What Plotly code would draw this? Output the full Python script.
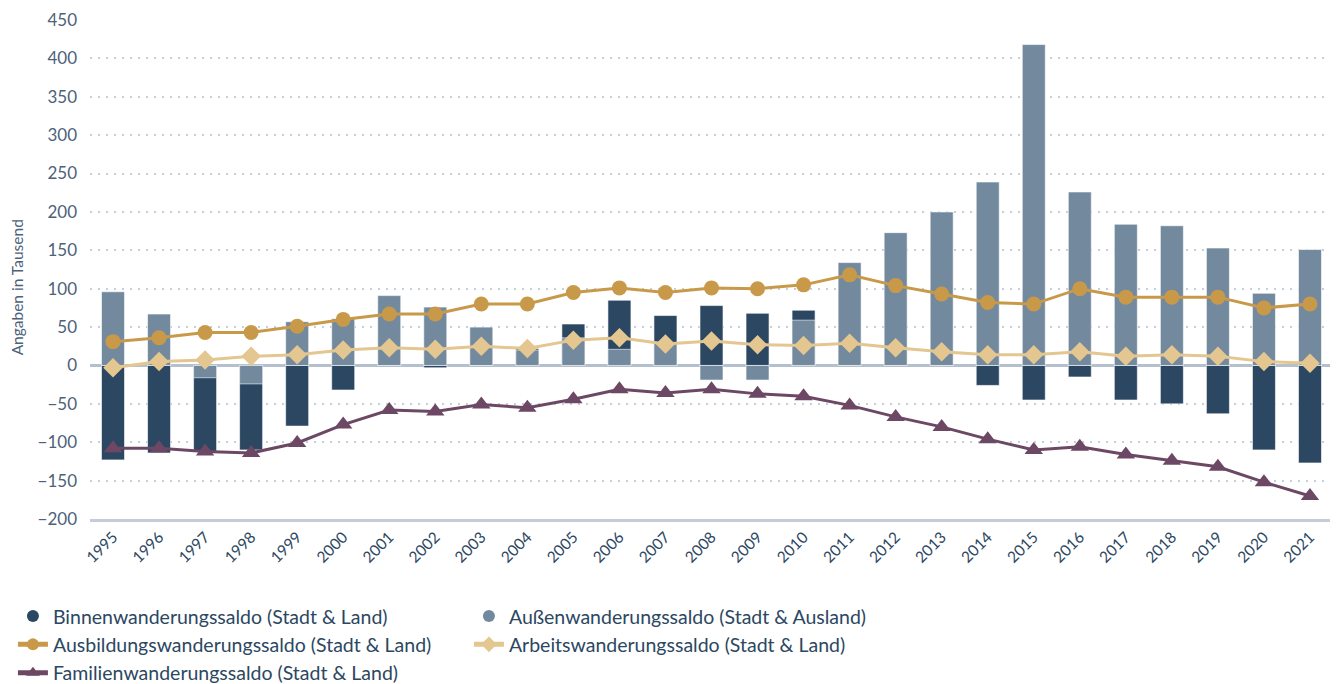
import plotly.graph_objects as go

years = [str(y) for y in range(1995, 2022)]

binnen = [-123, -114, -112, -110, -79, -32, 0, -3, 0, 22, 54, 85, 65, 78, 68, 72,
          0, 0, 0, -26, -45, -15, -45, -50, -63, -110, -127]
aussen = [96, 67, -16, -24, 57, 61, 91, 76, 50, 20, 36, 21, 30, -19, -19, 59,
          134, 173, 200, 239, 418, 226, 184, 182, 153, 94, 151]
ausbildung = [31, 36, 43, 43, 51, 60, 67, 67, 80, 80, 95, 101, 95, 101, 100, 105,
              118, 104, 93, 82, 80, 100, 89, 89, 89, 75, 80]
arbeit = [-3, 5, 7, 12, 14, 20, 23, 21, 25, 22, 33, 36, 28, 32, 27, 26,
          29, 23, 18, 14, 14, 18, 12, 14, 12, 5, 3]
familien = [-108, -108, -112, -114, -101, -77, -58, -60, -51, -55, -44, -31, -36, -31, -37, -40,
            -52, -67, -80, -96, -110, -106, -116, -124, -132, -152, -170]

names = [
    "Binnenwanderungssaldo (Stadt & Land)",
    "Außenwanderungssaldo (Stadt & Ausland)",
    "Ausbildungswanderungssaldo (Stadt & Land)",
    "Arbeitswanderungssaldo (Stadt & Land)",
    "Familienwanderungssaldo (Stadt & Land)",
]
y_title = "Angaben in Tausend"

C_DARK = "#2c4762"
C_LIGHT = "#738a9e"
C_ORANGE = "#c9994a"
C_BEIGE = "#e3c690"
C_PURPLE = "#6c4864"
TXT = "#2c4762"
AX = "#4d6279"

fig = go.Figure()

fig.add_trace(go.Bar(x=years, y=binnen, name=names[0], marker_color=C_DARK,
                     marker_line=dict(color="rgba(255,255,255,0.6)", width=1),
                     width=0.5, showlegend=False, legendgroup="b"))
fig.add_trace(go.Bar(x=years, y=aussen, name=names[1], marker_color=C_LIGHT,
                     marker_line=dict(color="rgba(255,255,255,0.6)", width=1),
                     width=0.5, showlegend=False, legendgroup="a"))

fig.add_trace(go.Scatter(x=years, y=ausbildung, name=names[2], mode="lines+markers",
                         line=dict(color=C_ORANGE, width=3),
                         marker=dict(symbol="circle", size=15, color=C_ORANGE)))
fig.add_trace(go.Scatter(x=years, y=arbeit, name=names[3], mode="lines+markers",
                         line=dict(color=C_BEIGE, width=3),
                         marker=dict(symbol="diamond", size=15, color=C_BEIGE)))
fig.add_trace(go.Scatter(x=years, y=familien, name=names[4], mode="lines+markers",
                         line=dict(color=C_PURPLE, width=3),
                         marker=dict(symbol="triangle-up", size=16, color=C_PURPLE)))

# legend-only entries for the bar series (circle symbols)
fig.add_trace(go.Scatter(x=[None], y=[None], mode="markers", name=names[0],
                         marker=dict(symbol="circle", size=18, color=C_DARK),
                         legendgroup="b", legendrank=1))
fig.add_trace(go.Scatter(x=[None], y=[None], mode="markers", name=names[1],
                         marker=dict(symbol="circle", size=18, color=C_LIGHT),
                         legendgroup="a", legendrank=2))
for i in range(2, 5):
    fig.data[i].legendrank = i + 1

fig.add_annotation(text=y_title, textangle=-90, xref="paper", yref="paper",
                   x=-0.058, y=0.464, xanchor="center", yanchor="middle",
                   showarrow=False, font=dict(size=15.5, color=AX))

fig.update_layout(
    width=1338, height=684,
    barmode="overlay",
    plot_bgcolor="white", paper_bgcolor="white",
    margin=dict(l=82, r=13, t=12, b=173, autoexpand=False),
    font=dict(family="Lato, 'Open Sans', sans-serif", color=TXT),
    legend=dict(orientation="h", x=-0.062, xanchor="left", y=-0.156, yanchor="top",
                entrywidth=411, entrywidthmode="pixels",
                font=dict(size=19.5, color=TXT), tracegroupgap=0,
                itemsizing="constant"),
    xaxis=dict(type="category", tickangle=-45, tickfont=dict(size=15.5, color=TXT),
               showgrid=False, showline=True, linecolor="#c3ccd7", linewidth=3,
               ticks="", range=[-0.5, 26.5]),
    yaxis=dict(range=[-200, 450], dtick=50, tickfont=dict(size=17, color=AX),
               ticklabeloverflow="allow",
               showgrid=True, gridcolor="#c3d0dc", griddash="2px,6px", gridwidth=2,
               zeroline=True, zerolinecolor="#b4c0cd", zerolinewidth=2.5,
               ticklabelstandoff=12),
)

fig.write_html("out.html")
